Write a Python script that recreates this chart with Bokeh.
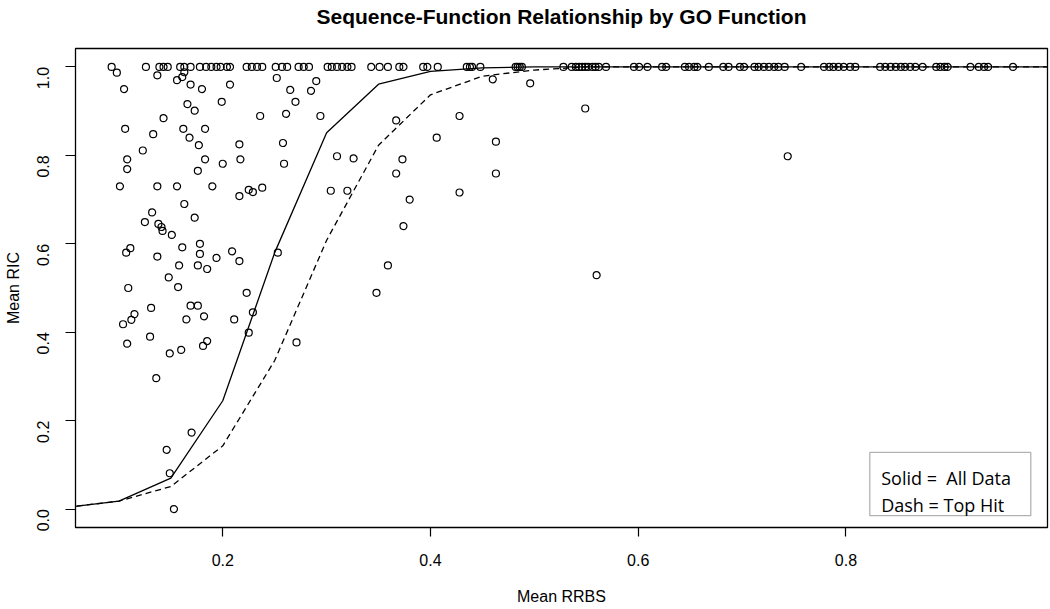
import math
from bokeh.plotting import figure
from bokeh.models import Range1d, Label, BoxAnnotation, FixedTicker, LinearAxis
from bokeh.embed import file_html
from bokeh.resources import INLINE

# ---------------- data ----------------
# GO functions that reach a mean RIC of 1.0
top_x = [0.093, 0.126, 0.139, 0.143, 0.147, 0.159, 0.163, 0.169, 0.178, 0.184, 0.189, 0.194,
         0.198, 0.204, 0.207, 0.223, 0.228, 0.233, 0.238, 0.251, 0.257, 0.262, 0.273, 0.278,
         0.283, 0.301, 0.305, 0.310, 0.315, 0.320, 0.324, 0.343, 0.351, 0.359, 0.370, 0.374,
         0.393, 0.397, 0.407, 0.435, 0.438, 0.440, 0.448, 0.482, 0.484, 0.486, 0.488, 0.528,
         0.536, 0.540, 0.543, 0.546, 0.549, 0.552, 0.556, 0.559, 0.562, 0.569, 0.596, 0.601,
         0.609, 0.623, 0.627, 0.645, 0.649, 0.654, 0.657, 0.668, 0.682, 0.687, 0.698, 0.702,
         0.712, 0.716, 0.721, 0.726, 0.731, 0.735, 0.741, 0.757, 0.779, 0.784, 0.788, 0.793,
         0.798, 0.804, 0.809, 0.833, 0.838, 0.843, 0.848, 0.853, 0.857, 0.862, 0.867, 0.874,
         0.887, 0.891, 0.895, 0.898, 0.920, 0.928, 0.933, 0.937, 0.961]
top_y = [1.0] * len(top_x)

# remaining GO functions (mean RRBS, mean RIC)
rest_x = [0.098, 0.137, 0.156, 0.163, 0.161, 0.169, 0.180, 0.207, 0.105, 0.252, 0.265, 0.285,
          0.290, 0.270, 0.199, 0.166, 0.173, 0.236, 0.261, 0.294, 0.143, 0.106, 0.133, 0.162,
          0.183, 0.168, 0.177, 0.216, 0.258, 0.123, 0.108, 0.108, 0.183, 0.200, 0.217, 0.259,
          0.176, 0.101, 0.137, 0.156, 0.190, 0.216, 0.225, 0.229, 0.238, 0.163, 0.132, 0.125,
          0.173, 0.138, 0.141, 0.142, 0.151,
          0.107, 0.111, 0.137, 0.161, 0.178, 0.178, 0.194, 0.209, 0.216, 0.158, 0.176, 0.185,
          0.148, 0.157, 0.109, 0.223, 0.253, 0.131, 0.169, 0.176, 0.115, 0.112, 0.104, 0.165,
          0.182, 0.211, 0.229, 0.225, 0.130, 0.108, 0.181, 0.185, 0.149, 0.160, 0.271, 0.136,
          0.170, 0.146, 0.149, 0.153,
          0.310, 0.326, 0.304, 0.320, 0.367, 0.373, 0.367, 0.380, 0.374, 0.406, 0.428, 0.428,
          0.460, 0.496, 0.463, 0.463, 0.359, 0.348, 0.560, 0.549, 0.744]
rest_y = [0.987, 0.981, 0.970, 0.988, 0.977, 0.960, 0.950, 0.960, 0.950, 0.975, 0.948, 0.946,
          0.968, 0.921, 0.921, 0.916, 0.901, 0.889, 0.894, 0.889, 0.884, 0.860, 0.848, 0.860,
          0.860, 0.840, 0.823, 0.825, 0.828, 0.811, 0.791, 0.769, 0.791, 0.781, 0.791, 0.781,
          0.765, 0.730, 0.730, 0.730, 0.730, 0.708, 0.722, 0.717, 0.727, 0.690, 0.671, 0.649,
          0.659, 0.645, 0.638, 0.629, 0.620,
          0.580, 0.590, 0.571, 0.592, 0.600, 0.577, 0.568, 0.583, 0.561, 0.551, 0.551, 0.543,
          0.524, 0.502, 0.500, 0.489, 0.580, 0.455, 0.460, 0.460, 0.441, 0.428, 0.418, 0.429,
          0.436, 0.429, 0.445, 0.399, 0.390, 0.374, 0.369, 0.380, 0.352, 0.360, 0.377, 0.296,
          0.173, 0.134, 0.081, 0.000,
          0.798, 0.793, 0.720, 0.720, 0.879, 0.791, 0.759, 0.700, 0.640, 0.840, 0.889, 0.716,
          0.972, 0.963, 0.831, 0.759, 0.551, 0.489, 0.529, 0.906, 0.798]

# binned curves
curve_x = [0.05, 0.10, 0.15, 0.20, 0.25, 0.30, 0.35, 0.40, 0.45, 0.50, 0.55, 0.60, 0.65,
           0.70, 0.75, 0.80, 0.85, 0.90, 0.95, 1.00]
solid_all = [0.004, 0.018, 0.070, 0.245, 0.580, 0.851, 0.961, 0.990, 0.998, 1.0, 1.0, 1.0,
             1.0, 1.0, 1.0, 1.0, 1.0, 1.0, 1.0, 1.0]
dash_top = [0.004, 0.018, 0.051, 0.143, 0.336, 0.608, 0.823, 0.937, 0.979, 0.993, 1.0, 1.0,
            1.0, 1.0, 1.0, 1.0, 1.0, 1.0, 1.0, 1.0]

x_ticks = [0.2, 0.4, 0.6, 0.8]
y_ticks = [0.0, 0.2, 0.4, 0.6, 0.8, 1.0]
y_tick_labels = ["0.0", "0.2", "0.4", "0.6", "0.8", "1.0"]

TITLE = "Sequence-Function Relationship by GO Function"
XLABEL = "Mean RRBS"
YLABEL = "Mean RIC"
LEG1 = "Solid =\u00a0 All Data"
LEG2 = "Dash = Top Hit"

FONT = "Liberation Sans"

X0, X1 = 0.0582, 0.9941
Y0, Y1 = -0.0417, 1.0417

# ---------------- figure ----------------
p = figure(width=1049, height=609,
           x_range=Range1d(X0, X1), y_range=Range1d(Y0, Y1),
           output_backend="svg", toolbar_location=None,
           min_border_left=75, min_border_right=2, min_border_top=48, min_border_bottom=82,
           background_fill_color="white", border_fill_color="white")

p.grid.visible = False
p.outline_line_color = "black"
p.outline_line_width = 1.3

for ax in (p.xaxis[0], p.yaxis[0]):
    ax.axis_line_color = None
    ax.major_tick_line_color = "black"
    ax.major_tick_line_width = 1.2
    ax.major_tick_in = 0
    ax.minor_tick_line_color = None
    ax.major_label_text_font = FONT
    ax.major_label_text_font_size = "16px"
    ax.major_label_text_color = "black"
    ax.axis_label_text_font = FONT
    ax.axis_label_text_font_size = "16px"
    ax.axis_label_text_font_style = "normal"
    ax.axis_label_text_color = "black"

p.xaxis.ticker = FixedTicker(ticks=x_ticks)
p.xaxis.major_tick_out = 9
p.xaxis.major_label_standoff = 17
p.xaxis.axis_label = XLABEL
p.xaxis.axis_label_standoff = 19

p.yaxis.ticker = FixedTicker(ticks=y_ticks)
p.yaxis.major_label_overrides = {t: s for t, s in zip(y_ticks, y_tick_labels)}
p.yaxis.major_label_orientation = math.pi / 2
p.yaxis.major_tick_out = 10
p.yaxis.major_label_standoff = 22
p.yaxis.axis_label = YLABEL
p.yaxis.axis_label_standoff = 7

# title: drawn as the label of a bare axis above the frame (centred on the frame)
title_axis = LinearAxis(ticker=FixedTicker(ticks=[]), axis_label=TITLE,
                        axis_line_color=None, major_tick_line_color=None,
                        minor_tick_line_color=None, major_tick_out=0, major_tick_in=0,
                        major_label_standoff=0, major_label_text_font_size="0px",
                        axis_label_standoff=21, axis_label_text_font=FONT,
                        axis_label_text_font_style="bold", axis_label_text_font_size="21px",
                        axis_label_text_color="black")
p.add_layout(title_axis, "above")

# curves
p.line(curve_x, solid_all, line_color="black", line_width=1.3)
p.line(curve_x, dash_top, line_color="black", line_width=1.3, line_dash="6 4")

# points
p.scatter(top_x, top_y, marker="circle", size=7, fill_color=None,
          line_color="black", line_width=1.2)
p.scatter(rest_x, rest_y, marker="circle", size=7, fill_color=None,
          line_color="black", line_width=1.2)

# legend box (a plain framed note, as in the original)
box = BoxAnnotation(left=0.823, right=0.978, bottom=-0.015, top=0.128,
                    fill_alpha=0, line_color="black", line_width=1.3)
p.add_layout(box)
p.add_layout(Label(x=0.834, y=0.0693, text=LEG1, text_font="Open Sans",
                   text_font_size="18px", text_color="black", text_baseline="alphabetic"))
p.add_layout(Label(x=0.834, y=0.0097, text=LEG2, text_font="Open Sans",
                   text_font_size="18px", text_color="black", text_baseline="alphabetic"))

open("out.html", "w").write(file_html(p, INLINE))
